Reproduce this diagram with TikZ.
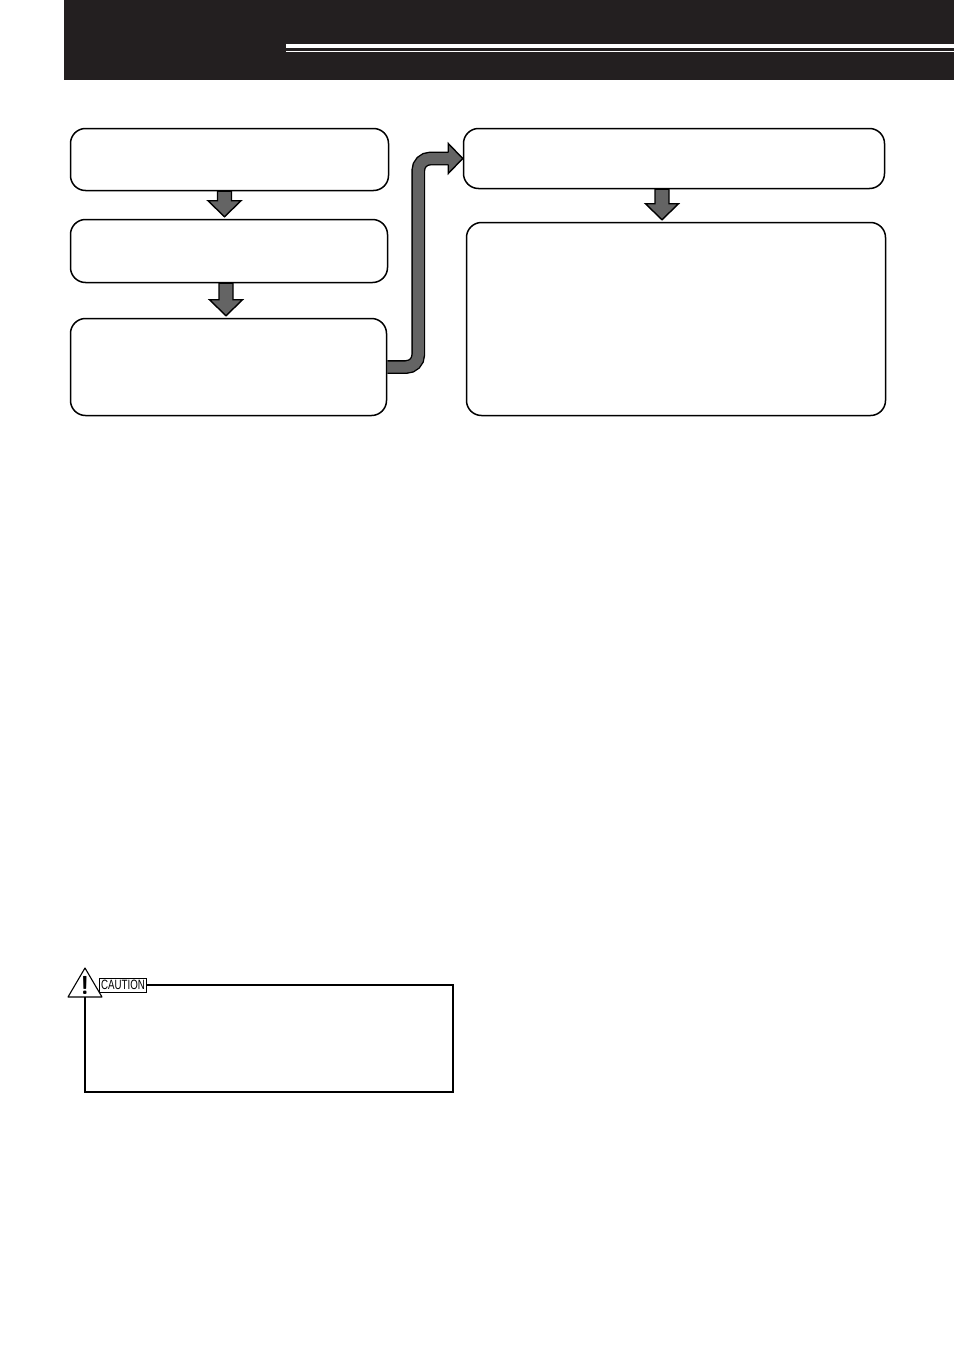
\documentclass[tikz,border=0pt]{standalone}
\usepackage{fontspec}
\newfontfamily\capfont[FakeStretch=0.72]{Liberation Sans}
\usetikzlibrary{calc}

\definecolor{headblack}{RGB}{35,31,32}
\definecolor{arrowgray}{RGB}{100,100,100}

\newcommand\fatdown[3]{%
  \draw[fatarrow] ($(#1.south)+(#3-7,0)$) -- ($(#2.north -| #1.south)+(#3-7,-18)$)
    -- ++(-9.5,0) -- ($(#2.north -| #1.south)+(#3,-2)$)
    -- ($(#2.north -| #1.south)+(#3+16.5,-18)$) -- ++(-9.5,0)
    -- ($(#1.south)+(#3+7,0)$) -- cycle;}

\begin{document}
\begin{tikzpicture}[x=1pt,y=-1pt,
    stepbox/.style={draw,line width=1.5,rounded corners=15,inner sep=0},
    fatline/.style={line width=1.4,line join=miter},
    fatarrow/.style={fatline,draw,fill=arrowgray},
    fatband/.style={line width=1.4,double=arrowgray,double distance=11,rounded corners=12}]
    \useasboundingbox (0,0) rectangle (954,1349);
    \fill[headblack] (64,0) rectangle (954,80);
    \draw[white,line width=3.7] (286,45.9) -- (954,45.9);
    \draw[white,line width=1.5] (286,51.3) -- (954,51.3);

    \node[stepbox,minimum width=318,minimum height=62] (box1) at (229.5,159.5) {};
    \node[stepbox,minimum width=317,minimum height=63] (box2) at (229,251) {};
    \node[stepbox,minimum width=316,minimum height=97] (box3) at (228.5,367) {};
    \node[stepbox,minimum width=421,minimum height=60] (box4) at (674,158.5) {};
    \node[stepbox,minimum width=419,minimum height=193] (box5) at (676,319) {};

    \fatdown{box1}{box2}{-5}
    \fatdown{box2}{box3}{-3}
    \fatdown{box4}{box5}{-12}

    \draw[fatband] (box3.east) -- ++(31,0) |- ($(box4.west)+(-13.5,0)$);
    \fill[arrowgray] ($(box4.west)+(-14.5,-15)$) -- (box4.west) -- ($(box4.west)+(-14.5,15)$) -- cycle;
    \draw[fatline] ($(box4.west)+(-14.5,-6.2)$) -- ++(0,-8.8) -- (box4.west)
        -- ($(box4.west)+(-14.5,15)$) -- ++(0,-8.8);

    \draw[line width=1.1,line join=round] (85,968) -- (102,997) -- (68,997) -- cycle;
    \node[anchor=base,inner sep=0,font=\sffamily\bfseries\fontsize{26}{26}\selectfont] (warn) at (85,994.5) {!};
    \node[draw,line width=0.9,inner sep=1.5,outer sep=0,minimum height=14,
        font=\capfont\fontsize{13.5}{13.5}\selectfont] (cautlbl) at (123,985) {CAUTION};
    \coordinate (tribase) at (85,997);
    \draw[line width=1.5] (cautlbl.east) -| (453,1092) -| (tribase);
\end{tikzpicture}
\end{document}
